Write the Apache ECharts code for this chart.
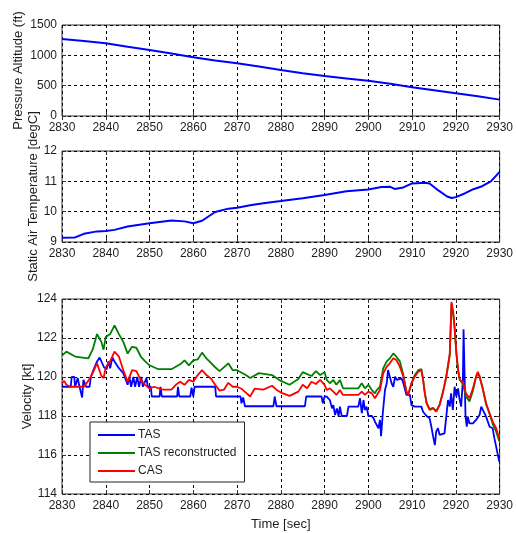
<!DOCTYPE html>
<html>
<head>
<meta charset="utf-8">
<script src="https://cdn.jsdelivr.net/npm/echarts@6/dist/echarts.min.js"></script>
<style>
html, body { margin: 0; padding: 0; background: #fff; }
#chart { width: 516px; height: 533px; }
</style>
</head>
<body>
<div id="chart"></div>
<script>
// Flight record, 2830-2930 s

// Pressure altitude (ft)
const altTime = [2830, 2835, 2840, 2845, 2850, 2855, 2860, 2865, 2870, 2875, 2880, 2885, 2890, 2895, 2900, 2905, 2910, 2915, 2920, 2925, 2930];
const altValue = [1270, 1235, 1198, 1140, 1088, 1030, 968, 915, 869, 815, 758, 705, 659, 620, 582, 530, 473, 425, 374, 325, 270];

// Static air temperature (degC)
const satTime = [2830, 2833, 2835, 2838, 2840, 2842, 2845, 2850, 2855, 2858, 2860, 2862, 2865, 2868, 2870, 2873, 2876, 2880, 2885, 2890, 2895, 2900, 2903, 2905, 2906, 2908, 2910, 2913, 2914, 2916, 2918, 2919, 2920, 2922, 2924, 2926, 2928, 2930];
const satValue = [9.14, 9.15, 9.27, 9.35, 9.36, 9.40, 9.51, 9.62, 9.71, 9.68, 9.62, 9.70, 9.99, 10.10, 10.13, 10.21, 10.28, 10.35, 10.44, 10.55, 10.67, 10.73, 10.81, 10.82, 10.75, 10.80, 10.93, 10.95, 10.93, 10.70, 10.50, 10.45, 10.48, 10.60, 10.74, 10.84, 11.00, 11.31];

// TAS (kt)
const tasTime = [2830, 2832, 2832.2, 2832.8, 2833, 2833.4, 2833.6, 2833.9, 2834.3, 2834.6, 2834.9, 2835.5, 2836.3, 2836.6, 2837, 2838, 2838.6, 2839, 2839.6, 2840.2, 2840.6, 2841, 2841.5, 2842, 2843, 2844, 2845, 2845.4, 2845.8, 2846.3, 2846.7, 2847.2, 2847.6, 2848.1, 2848.5, 2849.3, 2849.6, 2850.3, 2850.5, 2852.3, 2852.5, 2852.8, 2856.3, 2856.5, 2856.8, 2859.3, 2859.6, 2860, 2860.3, 2865, 2865.2, 2870.8, 2871, 2871.4, 2871.8, 2878.3, 2878.6, 2879, 2885.5, 2885.8, 2889.3, 2889.6, 2890, 2890.5, 2891.2, 2891.7, 2892, 2892.4, 2892.8, 2893.2, 2893.5, 2893.9, 2895.1, 2895.45, 2897.7, 2898.1, 2898.5, 2898.9, 2899.2, 2899.6, 2900, 2900.8, 2901.2, 2901.5, 2901.9, 2902.3, 2902.65, 2902.9, 2903.3, 2903.8, 2904.2, 2904.5, 2904.9, 2905.3, 2905.7, 2906.1, 2906.5, 2906.8, 2907.6, 2908, 2908.7, 2909.5, 2909.85, 2910.6, 2912.1, 2912.5, 2912.9, 2913.3, 2914, 2914.4, 2914.8, 2915.2, 2915.5, 2915.9, 2916.3, 2916.7, 2917.4, 2917.8, 2918.2, 2918.6, 2918.9, 2919.3, 2919.7, 2920.1, 2920.5, 2920.8, 2921.2, 2921.6, 2921.75, 2922, 2922.2, 2922.5, 2922.7, 2923.1, 2923.9, 2924.6, 2925.4, 2925.8, 2926.1, 2926.9, 2927.7, 2928.4, 2928.8, 2929.2, 2929.9];
const tasValue = [119.5, 119.5, 120.0, 120.0, 119.5, 119.5, 119.95, 119.6, 119.5, 118.95, 119.85, 119.5, 119.5, 120.0, 120.25, 120.8, 121.0, 120.95, 120.5, 120.4, 120.8, 120.45, 121.0, 120.8, 120.45, 120.2, 119.6, 120.0, 119.5, 120.0, 119.5, 120.0, 119.5, 120.0, 119.5, 119.95, 119.5, 119.5, 119.0, 119.0, 119.5, 119.0, 119.0, 119.5, 119.0, 119.0, 119.45, 119.0, 119.5, 119.5, 119.0, 119.0, 118.65, 118.95, 118.5, 118.5, 119.0, 118.5, 118.5, 119.0, 119.0, 118.65, 119.0, 118.99, 118.82, 118.39, 118.56, 118.05, 118.39, 118.0, 118.48, 118.0, 118.0, 118.48, 118.48, 118.91, 118.14, 118.82, 118.31, 118.48, 118.0, 118.0, 117.88, 117.71, 117.62, 117.37, 117.8, 116.97, 118.14, 119.33, 119.68, 120.36, 120.02, 119.68, 119.5, 120.02, 119.85, 119.93, 119.93, 119.68, 119.08, 119.08, 118.56, 118.48, 118.48, 118.22, 118.31, 118.0, 117.88, 117.45, 116.94, 116.51, 117.2, 117.37, 117.03, 117.11, 117.11, 117.97, 118.82, 118.48, 119.16, 118.31, 119.5, 118.99, 119.42, 118.91, 118.48, 119.85, 122.45, 122.45, 117.97, 117.45, 117.97, 117.62, 117.62, 117.8, 118.05, 118.48, 118.48, 117.97, 117.45, 117.37, 116.85, 116.43, 115.66];

// TAS reconstructed (kt)
const tasRecTime = [2830, 2831, 2833, 2836, 2837, 2838, 2839, 2839.5, 2840, 2841, 2842, 2843, 2844, 2845, 2846, 2847, 2848, 2849, 2850, 2852, 2855, 2857, 2858, 2859, 2860, 2861, 2862, 2863, 2865, 2866, 2868, 2869, 2870, 2872, 2873, 2875, 2878, 2880, 2882, 2884, 2885, 2887, 2888, 2889, 2890, 2890.5, 2891.2, 2892, 2892.7, 2893.5, 2894.2, 2897.7, 2898.5, 2899.2, 2900, 2900.8, 2901.5, 2901.9, 2902.65, 2903.4, 2904.2, 2904.9, 2905.7, 2906.4, 2907.2, 2908, 2908.7, 2909.1, 2909.85, 2910.6, 2911.4, 2912.1, 2912.5, 2912.9, 2913.3, 2914, 2914.8, 2915.5, 2916.3, 2917, 2917.8, 2918.6, 2919.0, 2919.4, 2919.7, 2920.1, 2920.5, 2920.9, 2921.6, 2922.3, 2923.1, 2923.9, 2924.6, 2925, 2925.4, 2926.1, 2926.9, 2927.7, 2928.4, 2929.2, 2929.9];
const tasRecValue = [121.1, 121.3, 121.05, 120.95, 121.4, 122.2, 121.8, 121.4, 122.05, 122.2, 122.65, 122.2, 121.8, 121.2, 121.55, 121.5, 121.05, 120.8, 120.6, 120.4, 120.4, 120.65, 120.85, 120.6, 120.85, 120.9, 121.25, 120.95, 120.5, 120.3, 120.7, 120.35, 120.35, 120.1, 119.95, 120.2, 120.1, 119.8, 119.6, 119.9, 120.25, 120.05, 120.3, 120.1, 120.25, 119.85, 119.68, 119.85, 119.6, 119.85, 119.42, 119.42, 119.68, 119.42, 119.6, 119.33, 119.16, 119.33, 119.5, 120.45, 120.8, 120.96, 121.21, 121.04, 120.8, 120.1, 119.25, 119.1, 119.68, 120.1, 120.35, 120.4, 119.9, 119.2, 118.7, 118.35, 118.42, 118.25, 118.6, 119.2, 120.0, 121.1, 123.75, 123.2, 122.5, 121.2, 120.3, 119.85, 119.65, 119.0, 118.75, 119.3, 120.0, 120.2, 120.05, 119.45, 118.6, 118.1, 117.6, 117.2, 116.7];

// CAS (kt)
const casTime = [2830, 2830.5, 2831, 2832, 2835, 2836, 2837, 2838, 2839, 2839.5, 2840, 2841, 2842, 2843, 2844, 2845, 2846, 2847, 2848, 2849, 2850, 2851, 2853, 2855, 2856, 2857, 2858, 2859, 2860, 2861, 2862, 2863, 2864, 2865, 2866, 2867, 2868, 2869, 2870, 2871, 2872, 2873, 2874, 2876, 2878, 2879, 2880, 2882, 2884, 2885, 2886, 2887, 2888, 2889, 2890, 2890.5, 2891.2, 2892, 2892.7, 2893.5, 2894.2, 2897.7, 2898.5, 2899.2, 2900, 2900.8, 2901.5, 2901.9, 2902.65, 2903.4, 2904.2, 2904.9, 2905.7, 2906.4, 2907.2, 2908, 2908.7, 2909.1, 2909.85, 2910.6, 2911.4, 2912.1, 2912.5, 2912.9, 2913.3, 2914, 2914.8, 2915.5, 2916.3, 2917, 2917.8, 2918.6, 2919.0, 2919.4, 2919.7, 2920.1, 2920.5, 2920.9, 2921.6, 2922.3, 2923.1, 2923.9, 2924.6, 2925, 2925.4, 2926.1, 2926.9, 2927.7, 2928.4, 2929.2, 2929.9];
const casValue = [119.67, 119.8, 119.6, 119.5, 119.5, 119.8, 120.2, 120.7, 120.05, 119.95, 120.5, 120.8, 121.3, 121.05, 120.35, 119.75, 120.35, 120.3, 119.85, 119.6, 119.4, 119.5, 119.35, 119.35, 119.6, 119.76, 119.6, 119.85, 119.76, 120.1, 120.35, 120.1, 119.93, 119.6, 119.3, 119.35, 119.7, 119.5, 119.5, 119.4, 119.2, 119.0, 119.4, 119.35, 119.55, 119.35, 119.2, 119.03, 119.25, 119.6, 119.42, 119.76, 119.64, 119.85, 119.6, 119.33, 119.42, 119.25, 119.08, 119.33, 119.08, 119.08, 119.25, 119.08, 119.25, 119.16, 118.91, 118.99, 119.33, 120.19, 120.53, 120.7, 120.96, 120.87, 120.53, 120.02, 119.25, 119.08, 119.68, 120.02, 120.27, 120.36, 119.85, 119.16, 118.65, 118.31, 118.39, 118.22, 118.56, 119.16, 120.02, 121.21, 123.85, 123.3, 122.6, 121.3, 120.4, 119.85, 119.76, 119.16, 118.91, 119.42, 120.02, 120.27, 120.02, 119.42, 118.65, 118.14, 117.71, 117.37, 116.85];

// Axis ranges and tick labels
const timeTicks = { min: 2830, max: 2930, interval: 10 };
const altTicks = { min: 0, max: 1500, interval: 500 };
const satTicks = { min: 9, max: 12, interval: 1 };
const velTicks = { min: 114, max: 124, interval: 2 };

const pairs = (t, v) => t.map((x, i) => [x, v[i]]);
const plain = v => String(v);

const TEXT = '#1e1e1e';
const FONT = 'Liberation Sans, Arial, sans-serif';

const chart = echarts.init(document.getElementById('chart'), null, { renderer: 'canvas' });

const grids = [
  { left: 62, top: 25, width: 442, height: 91 },
  { left: 62, top: 151, width: 442, height: 91 },
  { left: 62, top: 299, width: 442, height: 195 }
].map(g => Object.assign(g, { show: true, borderColor: '#333', borderWidth: 1, backgroundColor: '#fff' }));

const tickStyle = { show: true, inside: true, length: 4, lineStyle: { color: '#333' } };
const gridLine = { show: true, lineStyle: { color: '#000', type: [3, 3], width: 1 } };
const nameStyle = { fontSize: 13, color: TEXT, fontFamily: FONT };

function mainX(gi, name) {
  return {
    type: 'value', gridIndex: gi, position: 'bottom',
    min: timeTicks.min, max: timeTicks.max, interval: timeTicks.interval,
    axisLine: { show: false }, axisTick: tickStyle,
    axisLabel: { fontSize: 12, color: TEXT, fontFamily: FONT, margin: 6, formatter: plain },
    splitLine: gridLine,
    name: name || '', nameLocation: 'middle', nameGap: 24, nameMoveOverlap: false,
    nameTextStyle: nameStyle
  };
}
function topX(gi) {
  return {
    type: 'value', gridIndex: gi, position: 'top',
    min: timeTicks.min, max: timeTicks.max, interval: timeTicks.interval,
    axisLine: { show: false }, axisTick: tickStyle,
    axisLabel: { show: false }, splitLine: { show: false }
  };
}
function mainY(gi, ticks, name, gap) {
  return {
    type: 'value', gridIndex: gi, position: 'left',
    min: ticks.min, max: ticks.max, interval: ticks.interval,
    axisLine: { show: false }, axisTick: tickStyle,
    axisLabel: { fontSize: 12, color: TEXT, fontFamily: FONT, margin: 5, formatter: plain },
    splitLine: gridLine,
    name: name, nameLocation: 'middle', nameGap: gap, nameMoveOverlap: false,
    nameTextStyle: nameStyle
  };
}
function rightY(gi, ticks) {
  return {
    type: 'value', gridIndex: gi, position: 'right',
    min: ticks.min, max: ticks.max, interval: ticks.interval,
    axisLine: { show: false }, axisTick: tickStyle,
    axisLabel: { show: false }, splitLine: { show: false }
  };
}

const lineSeries = (name, xi, yi, data, color, width, z) => ({
  name, type: 'line', xAxisIndex: xi, yAxisIndex: yi, data,
  showSymbol: false, symbol: 'none', animation: false, z,
  lineStyle: { color, width }, itemStyle: { color }
});

chart.setOption({
  animation: false,
  backgroundColor: '#fff',
  grid: grids,
  xAxis: [mainX(0), mainX(1), mainX(2, 'Time [sec]'), topX(0), topX(1), topX(2)],
  yAxis: [
    mainY(0, altTicks, 'Pressure Altitude (ft)', 37),
    mainY(1, satTicks, 'Static Air Temperature [degC]', 22),
    mainY(2, velTicks, 'Velocity [kt]', 28),
    rightY(0, altTicks), rightY(1, satTicks), rightY(2, velTicks)
  ],
  legend: {
    data: ['TAS', 'TAS reconstructed', 'CAS'],
    icon: 'rect',
    orient: 'vertical', left: 90, top: 422,
    padding: [6, 8, 4, 8], itemGap: 4, itemWidth: 37, itemHeight: 2,
    backgroundColor: '#fff', borderColor: '#222', borderWidth: 1, borderRadius: 0,
    textStyle: { fontSize: 12, lineHeight: 14, color: TEXT, fontFamily: FONT, padding: [0, 0, 0, -2] },
    selectedMode: false
  },
  series: [
    lineSeries('Pressure Altitude', 0, 0, pairs(altTime, altValue), '#0000ff', 2, 2),
    lineSeries('Static Air Temperature', 1, 1, pairs(satTime, satValue), '#0000ff', 2, 2),
    lineSeries('TAS', 2, 2, pairs(tasTime, tasValue), '#0000ff', 1.8, 2),
    lineSeries('TAS reconstructed', 2, 2, pairs(tasRecTime, tasRecValue), '#008000', 1.8, 3),
    lineSeries('CAS', 2, 2, pairs(casTime, casValue), '#ff0000', 1.8, 4)
  ]
});
</script>
</body>
</html>
